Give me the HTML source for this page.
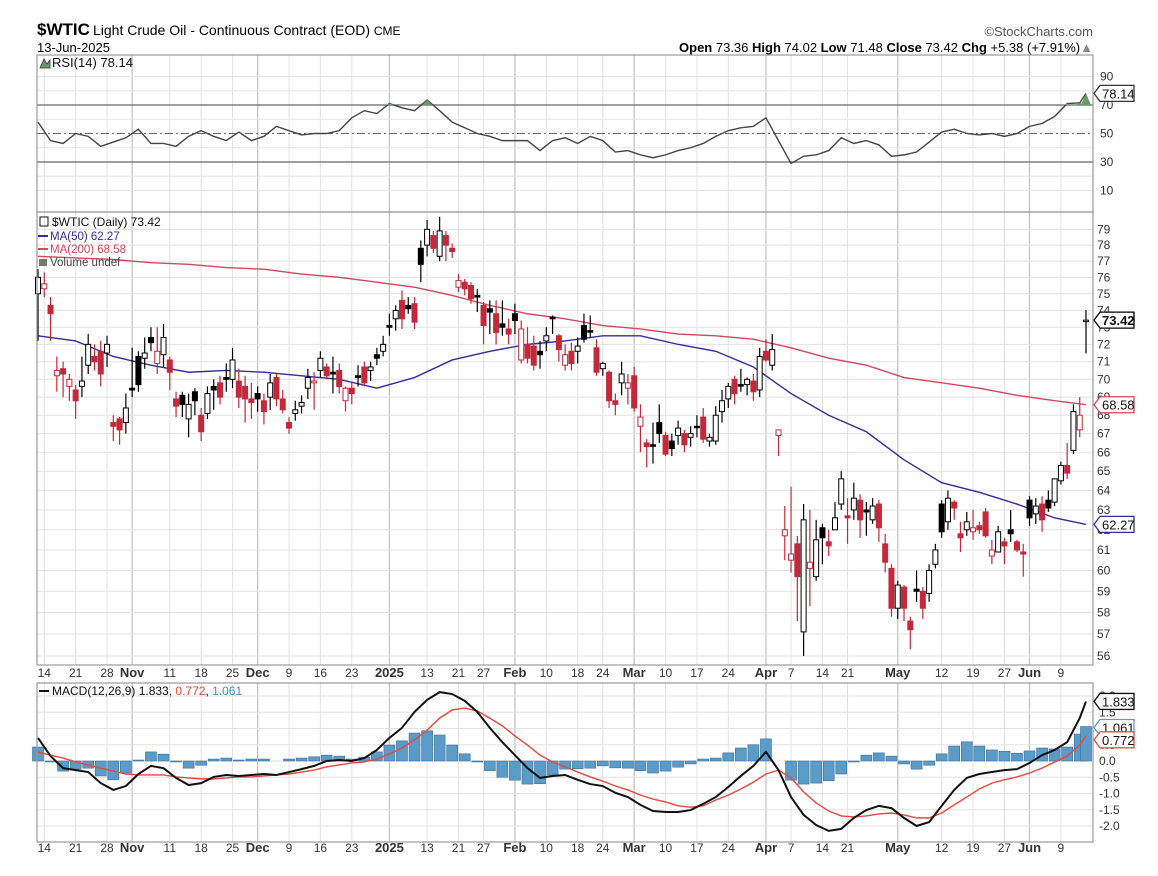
<!DOCTYPE html>
<html><head><meta charset="utf-8"><style>
html,body{margin:0;padding:0;background:#fff;}
svg{display:block;font-family:"Liberation Sans",sans-serif;}
</style></head><body>
<svg id="c" width="1158" height="876" viewBox="0 0 1158 876">
<text x="37" y="35" font-size="17" font-weight="bold" fill="#000">$WTIC</text>
<text x="93" y="35" font-size="14" fill="#000">Light Crude Oil - Continuous Contract (EOD) <tspan font-size="12">CME</tspan></text>
<text x="37" y="52" font-size="13" fill="#000">13-Jun-2025</text>
<text x="1093" y="36" font-size="13" fill="#555" text-anchor="end">©StockCharts.com</text>
<text x="1093" y="52" font-size="13" fill="#000" text-anchor="end"><tspan font-weight="bold">Open</tspan> 73.36 <tspan font-weight="bold">High</tspan> 74.02 <tspan font-weight="bold">Low</tspan> 71.48 <tspan font-weight="bold">Close</tspan> 73.42 <tspan font-weight="bold">Chg</tspan> +5.38 (+7.91%)<tspan fill="#888">▲</tspan></text>
<g id="grid"></g>
<g id="rsi"></g>
<g id="price"></g>
<g id="macd"></g>
<g id="frames"></g>
<g id="labels"></g>
</svg>
<script>
const ohlc=[[75.0,76.5,72.2,76.0],[75.3,76.3,74.8,75.6],[74.3,74.8,72.2,73.8],[70.2,71.3,69.3,70.5],[70.6,71.0,69.0,70.3],[69.6,70.3,68.8,70.0],[69.4,69.7,67.8,68.8],[69.6,71.3,69.0,69.9],[70.8,72.6,70.3,72.0],[71.3,72.0,70.5,71.0],
[71.6,72.2,69.6,70.3],[71.5,72.5,70.7,72.0],[67.6,68.0,66.6,67.4],[67.8,67.9,66.4,67.2],[67.6,69.2,67.0,68.4],[69.5,71.8,69.0,69.4],[71.3,71.6,69.3,69.7],[71.2,72.4,70.6,71.5],[72.4,73.0,71.6,72.1],[70.9,73.0,70.3,71.6],
[71.4,73.2,70.7,72.4],[71.1,71.3,69.4,70.4],[68.9,69.3,67.9,68.5],[69.1,69.3,67.9,68.6],[67.8,69.2,66.8,68.6],[69.3,69.5,68.0,68.8],[68.0,68.4,66.6,67.1],[68.1,69.6,67.8,69.2],[69.6,70.0,68.3,69.4],[69.8,70.2,68.6,69.0],
[70.1,70.9,69.3,70.0],[70.0,71.8,69.5,71.1],[69.9,70.6,68.4,69.0],[69.6,70.2,67.6,68.9],[68.9,69.8,67.8,68.7],[69.2,69.6,68.2,68.9],[68.8,69.2,67.5,68.2],[69.0,70.3,68.3,69.8],[70.1,70.3,68.5,68.9],[68.9,69.4,68.1,68.3],
[67.6,67.9,67.0,67.3],[68.1,68.8,67.7,68.3],[68.5,69.1,68.1,68.7],[69.5,70.6,68.9,70.1],[69.8,70.4,68.3,69.9],[70.5,71.6,70.1,71.2],[70.7,70.9,70.0,70.2],[70.4,71.3,69.2,70.3],[70.5,70.9,69.2,69.6],[68.8,69.6,68.2,69.5],
[69.5,69.8,68.6,69.2],[70.2,70.8,69.6,70.1],[70.7,71.0,69.6,69.8],[70.5,71.0,69.9,70.7],[71.4,71.8,70.8,71.2],[71.6,72.5,71.3,72.0],[73.1,73.8,72.5,73.0],[73.5,74.3,72.8,74.0],[74.6,75.2,72.9,73.5],[74.3,74.8,73.8,74.1],
[74.4,74.8,72.9,73.3],[77.8,78.3,75.7,76.8],[78.0,79.6,77.3,79.0],[78.6,78.9,77.5,77.8],[77.3,79.8,77.0,78.9],[78.6,78.9,77.0,78.0],[77.8,78.1,77.2,77.6],[75.4,76.2,75.1,75.8],[75.7,75.9,74.9,75.3],[75.5,75.7,74.4,74.7],
[74.9,75.3,73.9,74.8],[74.3,74.5,72.0,73.1],[74.1,74.6,72.6,73.9],[73.8,74.6,72.0,72.7],[73.2,74.6,72.5,73.0],[72.9,73.5,72.0,72.6],[73.8,74.4,72.6,73.4],[71.1,73.4,70.9,72.9],[72.0,73.0,70.9,71.2],[71.9,72.5,70.5,70.8],
[71.6,72.2,70.6,71.4],[72.2,73.0,71.6,72.5],[73.6,73.7,72.6,73.5],[72.5,72.6,71.0,71.7],[70.8,72.0,70.5,71.4],[71.6,72.1,70.5,70.9],[71.6,72.4,70.9,71.9],[73.1,73.8,72.1,72.3],[72.8,73.7,72.4,72.8],[71.8,72.3,70.2,70.4],
[70.6,71.0,70.2,70.9],[70.4,70.5,68.4,68.8],[68.8,69.2,68.0,68.6],[69.8,71.0,69.1,70.3],[69.5,70.3,68.6,69.8],[70.2,70.7,68.2,68.4],[67.4,68.6,66.0,67.9],[66.5,66.7,65.2,66.3],[66.4,67.6,65.4,66.35],[67.6,68.6,66.5,67.0],
[66.9,67.1,65.8,65.9],[66.6,67.0,65.8,66.2],[66.9,67.7,66.4,67.3],[67.0,67.2,66.0,66.4],[66.8,67.4,66.3,67.0],[67.4,68.0,66.8,67.4],[67.9,68.4,66.5,66.7],[66.6,67.0,66.3,66.8],[66.6,68.5,66.4,68.0],[68.2,69.4,67.6,68.8],
[68.9,69.8,68.4,69.6],[70.0,70.2,68.6,69.2],[69.7,70.6,69.3,69.7],[69.7,70.1,69.1,70.0],[69.9,70.3,68.8,69.3],[69.4,71.8,69.0,71.3],[71.6,72.3,71.0,71.1],[70.8,72.6,70.5,71.7],[66.9,67.2,65.8,67.2],[61.7,63.2,60.5,62.0],
[60.5,64.2,59.9,60.8],[61.3,61.7,57.6,59.7],[57.1,63.3,56.0,62.5],[60.1,63.0,58.3,60.4],[59.7,62.5,59.5,61.5],[62.1,62.3,60.3,61.6],[61.4,62.0,60.7,61.2],[62.0,63.4,62.0,62.6],[63.3,65.0,63.0,64.6],[62.7,63.6,61.3,62.6],
[63.0,64.4,62.5,63.6],[63.5,63.8,61.6,62.5],[63.0,63.4,61.7,62.9],[62.5,63.6,62.3,63.2],[63.3,63.5,61.4,62.1],[61.3,61.8,59.9,60.4],[60.1,60.3,57.8,58.2],[58.2,59.5,57.7,59.3],[59.2,59.3,57.6,58.2],[57.6,57.8,56.3,57.2],
[59.1,60.0,58.5,59.0],[59.0,59.2,57.7,58.2],[58.9,60.3,58.5,60.0],[60.3,61.3,60.1,61.0],[63.3,63.5,61.6,61.9],[62.4,64.0,62.0,63.6],[63.4,63.5,62.5,63.1],[61.8,62.4,60.9,61.6],[62.0,62.9,61.7,62.4],[61.9,63.0,61.5,62.1],
[62.2,62.4,61.8,62.0],[62.9,63.1,61.6,61.7],[60.7,61.5,60.3,61.0],[60.9,62.2,60.9,61.9],[61.4,61.6,60.3,61.2],[62.0,63.0,61.4,61.8],[61.4,61.5,60.9,61.0],[60.9,61.3,59.7,60.8],[63.5,63.7,62.2,62.6],[62.8,63.6,62.3,63.2],
[63.3,63.7,61.9,62.5],[63.5,64.0,62.9,63.1],[63.4,64.6,63.2,64.6],[64.5,65.5,64.3,65.3],[65.3,66.5,64.6,64.9],[66.1,68.6,65.9,68.2],[67.2,69.0,66.8,68.0],[73.36,74.02,71.48,73.42]];
const maStep=6;
const ma50=[72.5,72.2,71.3,70.8,70.4,70.5,70.4,70.2,70.0,69.5,70.1,71.1,71.6,72.0,72.2,72.5,72.5,72.0,71.6,70.7,69.2,68.0,67.1,65.6,64.4,63.9,63.3,62.6,62.27];
const ma200=[77.3,77.2,77.1,76.9,76.8,76.6,76.5,76.2,76.0,75.7,75.4,74.9,74.3,73.8,73.5,73.1,72.9,72.6,72.5,72.3,71.8,71.2,70.8,70.1,69.8,69.5,69.1,68.8,68.58];
const indStep=2;
const rsi=[58,45,43,50,48,41,44,47,53,43,43,41,48,52,48,45,51,45,48,55,52,49,50,50,52,61,66,64,71,68,66,73.5,66,58,54,50,48,45,45,45,38,45,47,43,48,45,37,38,35,33,35,38,40,43,48,52,54,55,61,45,29,34,35,38,47,43,45,42,34,35,37,44,51,53,50,49,50,48,50,55,57,62,71,71.5,78.14];
const macdLine=[0.71,0.15,-0.22,-0.28,-0.34,-0.68,-0.89,-0.77,-0.40,-0.15,-0.22,-0.52,-0.74,-0.68,-0.49,-0.43,-0.46,-0.43,-0.40,-0.43,-0.34,-0.25,-0.15,0,0.03,0,0.09,0.34,0.71,1.02,1.51,1.88,2.12,2.06,1.85,1.51,1.02,0.58,0.18,-0.22,-0.52,-0.46,-0.43,-0.58,-0.71,-0.77,-0.98,-1.11,-1.35,-1.54,-1.57,-1.57,-1.51,-1.32,-1.11,-0.80,-0.46,-0.15,0.28,-0.28,-1.11,-1.66,-1.97,-2.15,-2.09,-1.75,-1.51,-1.38,-1.45,-1.75,-2.00,-1.88,-1.38,-0.89,-0.52,-0.40,-0.34,-0.28,-0.25,-0.06,0.18,0.34,0.58,1.32,1.833];
const signalLine=[0.28,0.18,0.09,-0.03,-0.12,-0.22,-0.31,-0.40,-0.43,-0.43,-0.43,-0.49,-0.52,-0.55,-0.55,-0.52,-0.49,-0.49,-0.46,-0.43,-0.40,-0.34,-0.28,-0.18,-0.12,-0.06,-0.03,0.06,0.22,0.40,0.65,0.95,1.32,1.57,1.63,1.54,1.32,1.08,0.77,0.49,0.18,-0.03,-0.18,-0.34,-0.49,-0.62,-0.77,-0.89,-1.05,-1.17,-1.26,-1.38,-1.42,-1.38,-1.20,-1.05,-0.86,-0.65,-0.40,-0.28,-0.52,-0.95,-1.29,-1.54,-1.69,-1.72,-1.69,-1.63,-1.60,-1.66,-1.75,-1.75,-1.60,-1.35,-1.11,-0.86,-0.68,-0.58,-0.49,-0.37,-0.22,-0.03,0.15,0.49,0.772];
const tickIdx=[1,6,11,15,21,26,31,35,40,45,50,56,62,67,71,76,81,86,90,95,100,105,110,116,120,125,129,137,144,149,154,158,163];
const tickLbl=['14','21','28','Nov','11','18','25','Dec','9','16','23','2025','13','21','27','Feb','10','18','24','Mar','10','17','24','Apr','7','14','21','May','12','19','27','Jun','9'];
const tickMajor=[0,0,0,1,0,0,0,1,0,0,0,1,0,0,0,1,0,0,0,1,0,0,0,1,0,0,0,1,0,0,0,1,0];
const priceTicks=[56,57,58,59,60,61,62,63,64,65,66,67,68,69,70,71,72,73,74,75,76,77,78,79];
const rsiTicks=[90,70,50,30,10];
const macdTicks=[2.0,1.5,1.0,0.5,0.0,-0.5,-1.0,-1.5,-2.0];

const L=37,R=1093;
const RSI_T=55,RSI_B=212,P_T=212,P_B=665,M_T=683,M_B=842;
const last=ohlc.length-1;
const xi=i=>38+i*(1086-38)/last;
const yP=p=>656-1240*Math.log(p/56);
const yR=v=>133.5-(v-50)*1.425;
const yM=v=>761-v*32.5;
const NS='http://www.w3.org/2000/svg';
function mk(parent,tag,attrs){const e=document.createElementNS(NS,tag);for(const k in attrs)e.setAttribute(k,attrs[k]);document.getElementById(parent).appendChild(e);return e;}

[[RSI_T,RSI_B],[P_T,P_B],[M_T,M_B]].forEach(([t,b])=>{
  tickIdx.forEach((ti,k)=>{const l=mk('grid','line',{x1:xi(ti),x2:xi(ti),y1:t,y2:b,stroke:tickMajor[k]?'#c4c4c4':'#e2e2e2','stroke-width':tickMajor[k]?1.3:1});
  
  });
});
priceTicks.forEach(p=>{const l=mk('grid','line',{x1:L,x2:R,y1:yP(p),y2:yP(p),stroke:'#e2e2e2'});

});
[90,80,60,40,20,10].forEach(v=>{const l=mk('grid','line',{x1:L,x2:R,y1:yR(v),y2:yR(v),stroke:'#e6e6e6'});

});
macdTicks.forEach(v=>{const l=mk('grid','line',{x1:L,x2:R,y1:yM(v),y2:yM(v),stroke:'#e2e2e2'});

});

[70,30].forEach(v=>{const l=mk('rsi','line',{x1:L,x2:R,y1:yR(v),y2:yR(v),stroke:'#666','stroke-width':1.3});

});
const mid=mk('rsi','line',{x1:L,x2:R,y1:yR(50),y2:yR(50),stroke:'#666','stroke-dasharray':'8 3 2 3'});


const rsiPts=rsi.map((v,k)=>[xi(Math.min(k*indStep,last)),yR(v)]);
const rsiL=mk('rsi','polyline',{points:rsiPts.map(p=>p.join(',')).join(' '),fill:'none',stroke:'#444','stroke-width':1.4});


rsi.forEach((v,k)=>{if(v>70){const x=xi(Math.min(k*indStep,last));const t=mk('rsi','polygon',{points:`${x-5},${yR(70)} ${x},${yR(v)} ${x+5},${yR(70)}`,fill:'#6a9a6a'});

}});

function maLine(arr,col,name){const pts=arr.map((v,k)=>xi(Math.min(k*maStep,last))+','+yP(v)).join(' ');
const l=mk('price','polyline',{points:pts,fill:'none',stroke:col,'stroke-width':1.4});

}
maLine(ma200,'#d2475a','ma200-line');
maLine(ma50,'#2e2e9e','ma50-line');

ohlc.forEach((d,i)=>{
  const [o,h,l,c]=d;const prev=i>0?ohlc[i-1][3]:c-1;
  const col=c<prev?'#c3283b':'#000';const hollow=c>o;const x=xi(i);
  const w=mk('price','line',{x1:x,x2:x,y1:yP(h),y2:yP(l),stroke:col,'stroke-width':1.2});
  
  
  const top=yP(Math.max(o,c)),bot=yP(Math.min(o,c));
  const b=mk('price','rect',{x:x-2.5,y:top,width:5,height:Math.max(1.5,bot-top),fill:hollow?'#fff':col,stroke:col,'stroke-width':1});
  
  
});

macdLine.forEach((v,k)=>{const hv=v-signalLine[k];const x=xi(Math.min(k*indStep,last));
  const y0=yM(0),y1=yM(hv);
  const r=mk('macd','rect',{x:x-5.5,y:Math.min(y0,y1),width:11,height:Math.abs(y1-y0),fill:'#5b9bc8',stroke:'#3c6f95','stroke-width':0.6});
  
  });
function mLine(arr,col,w,name){const pts=arr.map((v,k)=>xi(Math.min(k*indStep,last))+','+yM(v)).join(' ');
const l=mk('macd','polyline',{points:pts,fill:'none',stroke:col,'stroke-width':w});

}
mLine(signalLine,'#e8473f',1.4,'macd-signal-line');
mLine(macdLine,'#111',2,'macd-line');

[[RSI_T,RSI_B],[P_T,P_B],[M_T,M_B]].forEach(([t,b],k)=>{const f=mk('frames','rect',{x:L,y:t,width:R-L,height:b-t,fill:'none',stroke:'#999','stroke-width':1.2});

});

function txt(x,y,s,attrs,name){const t=mk('labels','text',Object.assign({x:x,y:y,'font-size':12,fill:'#333'},attrs));t.textContent=s;

return t;}
priceTicks.forEach(p=>txt(1097,yP(p)+4,String(p),{},'price-tick-label'));
rsiTicks.forEach(v=>txt(1100,yR(v)+4,String(v),{},'rsi-tick-label'));
macdTicks.forEach(v=>txt(1099,yM(v)+4,v.toFixed(1),{},'macd-tick-label'));
[677,852].forEach(y=>tickIdx.forEach((ti,k)=>txt(xi(ti),y,tickLbl[k],{'text-anchor':'middle','font-weight':tickMajor[k]?'bold':'normal','font-size':tickMajor[k]?13:12},'date-tick-label')));

function tag(y,s,col,bold,name){const x=1094;
  const p=mk('labels','polygon',{points:`${x},${y} ${x+6},${y-8} ${x+40},${y-8} ${x+40},${y+8} ${x+6},${y+8}`,fill:'#fff',stroke:col,'stroke-width':1.3});
  
  
  txt(x+8,y+5,s,{'font-size':13,fill:'#111','font-weight':bold?'bold':'normal'},name);}
tag(yR(rsi[rsi.length-1]),'78.14','#333',false,'rsi-value-tag');
tag(yP(ohlc[last][3]),'73.42','#000',true,'close-value-tag');
tag(yP(ma200[ma200.length-1]),'68.58','#d2475a',false,'ma200-value-tag');
tag(yP(ma50[ma50.length-1]),'62.27','#2e2e9e',false,'ma50-value-tag');
tag(yM(macdLine[macdLine.length-1]),'1.833','#111',false,'macd-value-tag');
tag(yM(macdLine[macdLine.length-1]-signalLine[signalLine.length-1])+1,'1.061','#5b9bc8',false,'histogram-value-tag');
tag(yM(signalLine[signalLine.length-1])+4,'0.772','#e8473f',false,'signal-value-tag');

txt(52,67,'RSI(14) 78.14',{'font-size':13,fill:'#111'},'rsi-legend');
mk('labels','polygon',{points:'40,68 44,59 47,64 50,60 50,68',fill:'#6a9a6a',stroke:'#333','stroke-width':0.8});
txt(52,226,'$WTIC (Daily) 73.42',{'font-size':12,fill:'#111'},'price-legend');
mk('labels','rect',{x:40,y:217,width:8,height:9,fill:'none',stroke:'#111'});
mk('labels','line',{x1:38,x2:48,y1:236,y2:236,stroke:'#2e2e9e','stroke-width':2});
txt(50,240,'MA(50) 62.27',{'font-size':11.5,fill:'#2e2e9e'},'ma50-legend');
mk('labels','line',{x1:38,x2:48,y1:249,y2:249,stroke:'#d2475a','stroke-width':2});
txt(50,253,'MA(200) 68.58',{'font-size':11.5,fill:'#d2475a'},'ma200-legend');
mk('labels','rect',{x:39,y:259,width:8,height:7,fill:'#777'});
txt(50,266,'Volume undef',{'font-size':11.5,fill:'#444'},'volume-legend');
mk('labels','line',{x1:39,x2:49,y1:691,y2:691,stroke:'#111','stroke-width':2});
const ml=txt(52,695,'',{'font-size':12,fill:'#111'},'macd-legend');
ml.innerHTML='MACD(12,26,9) 1.833, <tspan fill="#e8473f">0.772</tspan>, <tspan fill="#3c8fc8">1.061</tspan>';
</script>
</body></html>
